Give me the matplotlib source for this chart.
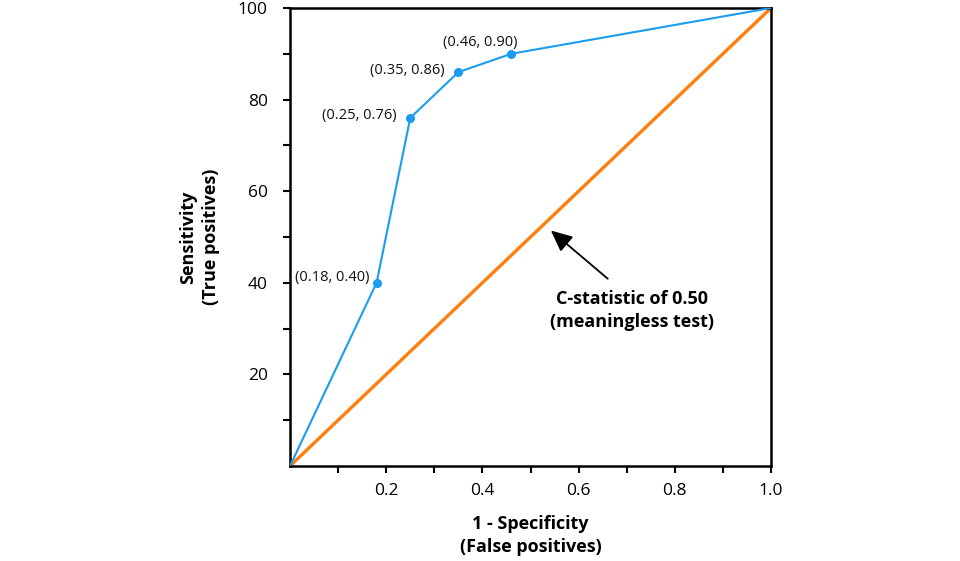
import matplotlib
matplotlib.use("Agg")
import matplotlib.pyplot as plt

plt.rcParams['font.family'] = ['Open Sans', 'DejaVu Sans']

fpr = [0.0, 0.18, 0.25, 0.35, 0.46, 1.0]
tpr = [0, 40, 76, 86, 90, 100]
point_labels = ["(0.18, 0.40)", "(0.25, 0.76)", "(0.35, 0.86)", "(0.46, 0.90)"]
label_offsets = [(-5, 4), (-10, 2), (-10, 1), (-22, 3)]
ref_x = [0.0, 1.0]
ref_y = [0, 100]
x_ticks = [0.1, 0.2, 0.3, 0.4, 0.5, 0.6, 0.7, 0.8, 0.9, 1.0]
x_tick_labels = ["", "0.2", "", "0.4", "", "0.6", "", "0.8", "", "1.0"]
y_ticks = [10, 20, 30, 40, 50, 60, 70, 80, 90, 100]
y_tick_labels = ["", "20", "", "40", "", "60", "", "80", "", "100"]

fig = plt.figure(figsize=(9.6, 5.61), dpi=100)
ax = fig.add_axes([290/960, 95/561, 481/960, 458/561])

ax.plot(ref_x, ref_y, color="#ff7f0e", lw=2.4, zorder=2, solid_capstyle='butt')
ax.plot(fpr, tpr, color="#1a9cf0", lw=1.5, zorder=3)
ax.plot(fpr[1:5], tpr[1:5], 'o', color="#1a9cf0", ms=5.5, zorder=4)

for i, lab in enumerate(point_labels):
    dx, dy = label_offsets[i]
    ha = 'right' if i < 3 else 'center'
    ax.annotate(lab, (fpr[i+1], tpr[i+1]), xytext=(dx, dy), textcoords='offset points',
                ha=ha, va='bottom' if i == 3 else 'center', fontsize=10.5, color="#111111")

ax.annotate("", xy=(0.538, 51.8), xytext=(0.665, 40.5),
            arrowprops=dict(arrowstyle="-|>,head_length=1.3,head_width=0.6", color="black", lw=1.3))
ax.text(0.712, 34, "C-statistic of 0.50\n(meaningless test)", ha='center', va='center',
        fontsize=13, fontweight='bold', linespacing=1.35)

ax.set_xlim(0, 1)
ax.set_ylim(0, 100)
ax.set_xticks(x_ticks)
ax.set_xticklabels(x_tick_labels)
ax.set_yticks(y_ticks)
ax.set_yticklabels(y_tick_labels)
ax.tick_params(axis='x', length=5, width=1.5, pad=7, labelsize=12.5)
ax.tick_params(axis='y', length=5, width=1.5, pad=11, labelsize=12.5)
for s in ax.spines.values():
    s.set_linewidth(1.8)

ax.set_xlabel("1 - Specificity\n(False positives)", fontsize=13, fontweight='bold', labelpad=12, linespacing=1.35)
ax.set_ylabel("Sensitivity\n(True positives)", fontsize=13, fontweight='bold', labelpad=13, linespacing=1.35)

fig.savefig("out.png", dpi=100, facecolor='white')
